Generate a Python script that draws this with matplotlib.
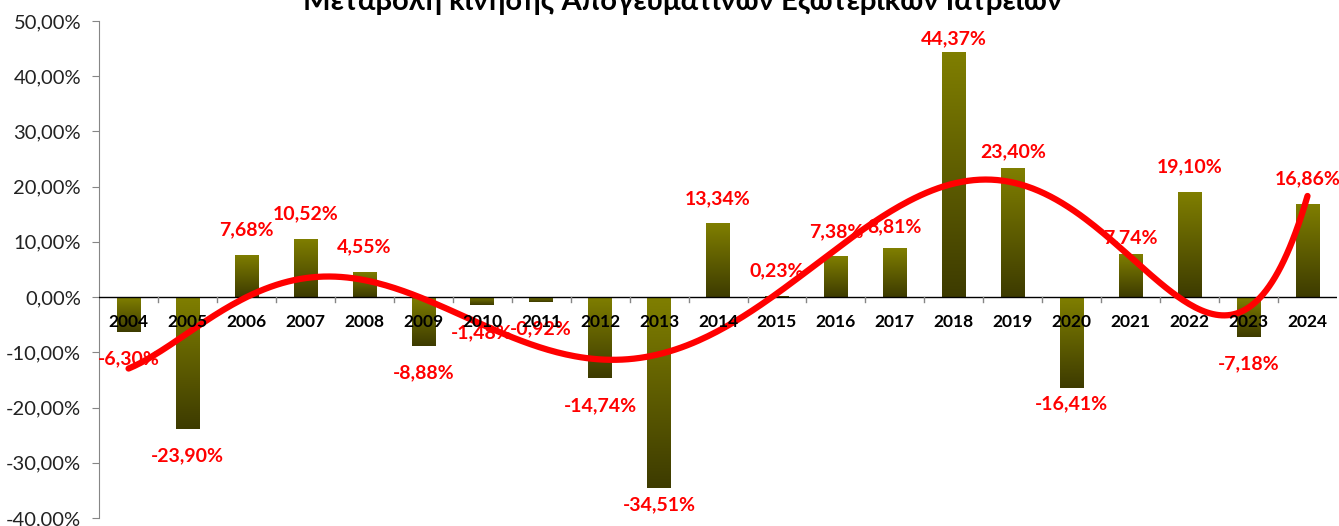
import matplotlib.pyplot as plt
import matplotlib.colors as mcolors
from matplotlib.ticker import FuncFormatter, MultipleLocator
import numpy as np

#------------------------------------------------------------------------------

years = ['2004', '2005', '2006', '2007', '2008', '2009', '2010', '2011', '2012',
         '2013', '2014', '2015', '2016', '2017', '2018', '2019', '2020', '2021',
         '2022', '2023', '2024']
change = [-6.30, -23.90, 7.68, 10.52, 4.55, -8.88, -1.48, -0.92, -14.74,
          -34.51, 13.34, 0.23, 7.38, 8.81, 44.37, 23.40, -16.41, 7.74,
          19.10, -7.18, 16.86]
title = 'Μεταβολή κίνησης Απογευματινών Εξωτερικών Ιατρείων'

# label nudges in pixels (dx, dy) where the default place was moved
nudge = {'2013': (0, -17), '2017': (0, 22), '2018': (0, 13),
         '2019': (0, 16), '2020': (0, -16), '2021': (0, 17)}

#------------------------------------------------------------------------------

plt.rcParams['font.family'] = ['Lato', 'DejaVu Sans']

x = np.arange(len(years))
vals = np.array(change) / 100.0

fig = plt.figure(figsize=(13.39, 5.26), dpi=100)
ax = fig.add_axes([0.074, 0.0152, 0.9245, 0.945])

def pct(v, pos=None):
    return f'{v * 100:.2f}%'.replace('.', ',')

# gradient bars: olive on top, dark at the bottom
grad_cmap = mcolors.LinearSegmentedColormap.from_list(
    'olive', ['#3d3b00', '#807f00'])
grad = np.linspace(0, 1, 256).reshape(-1, 1)
bars = ax.bar(x, vals, width=0.40, color='none', zorder=2)
for b in bars:
    x0, y0 = b.get_x(), b.get_y()
    w, h = b.get_width(), b.get_height()
    lo, hi = min(y0, y0 + h), max(y0, y0 + h)
    im = ax.imshow(grad, cmap=grad_cmap, aspect='auto', origin='lower',
                   extent=[x0, x0 + w, lo, hi], zorder=2)
    im.set_clip_path(b)

# polynomial trend line (order 6, like the spreadsheet trendline)
coef = np.polyfit(x, vals, 6)
xs = np.linspace(x[0], x[-1], 400)
ax.plot(xs, np.polyval(coef, xs), color='#ff0000', lw=4.5,
        solid_capstyle='round', zorder=4)

# value labels (under the trend line)
for xi, yr, v in zip(x, years, vals):
    dx, dy = nudge.get(yr, (0, 25 if v >= 0 else -27))
    ax.annotate(pct(v), (xi, v), xytext=(dx, dy), textcoords='offset pixels',
                ha='center', va='center', color='#ff0000',
                fontsize=14, fontweight='bold', zorder=3)

# year labels just under the zero line
for xi, yr in zip(x, years):
    ax.text(xi, -0.046, yr, ha='center', va='center', fontsize=12.5,
            fontweight='bold', color='black', zorder=5)

ax.axhline(0, color='black', lw=1.0, zorder=3)
ax.set_xticks([])
for xb in np.arange(0.5, len(years) - 0.5, 1):
    ax.plot([xb, xb], [0, -0.009], color='#868686', lw=1, zorder=3)

ax.set_xlim(-0.5, len(years) - 0.5)
ax.set_ylim(-0.40, 0.50)
ax.yaxis.set_major_locator(MultipleLocator(0.10))
ax.yaxis.set_major_formatter(FuncFormatter(pct))
ax.tick_params(axis='y', labelsize=14.5, length=5, color='#868686',
               labelcolor='#222222', pad=8)

for s in ['top', 'right', 'bottom']:
    ax.spines[s].set_visible(False)
ax.spines['left'].set_color('#868686')

fig.text(0.51, 1 - 10 / 526, title, ha='center', va='baseline',
         fontsize=21, fontweight='bold')

fig.savefig('out.png', dpi=100)
